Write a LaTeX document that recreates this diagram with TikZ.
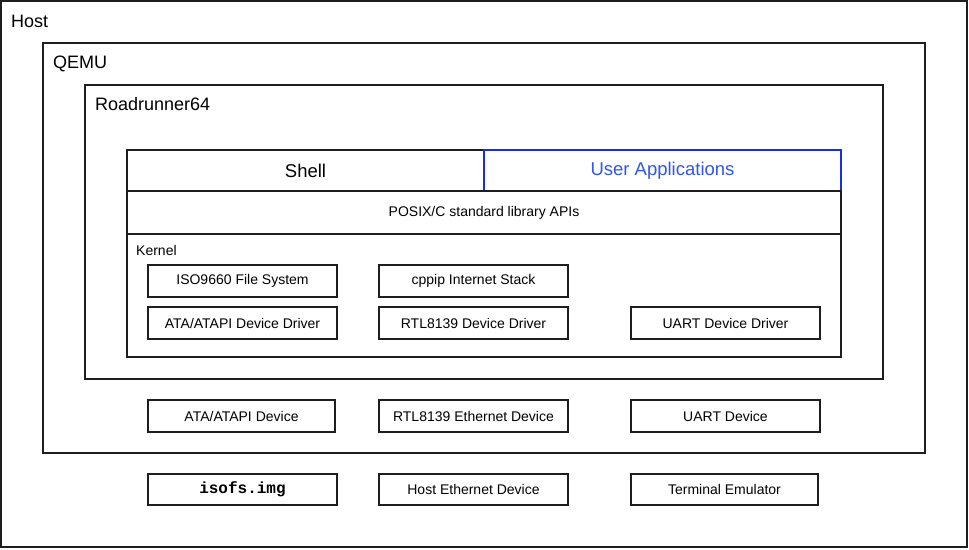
\documentclass[tikz,border=0pt]{standalone}
\usepackage{fontspec}
\setmainfont{Liberation Sans}
\setmonofont{Liberation Mono}
\definecolor{edge}{RGB}{30,30,30}
\definecolor{uablue}{RGB}{25,45,225}
\definecolor{uatext}{RGB}{50,85,235}
\tikzset{
  frame/.style={draw=edge, line width=1.2pt, inner sep=0pt, rectangle},
  title/.style={anchor=base west, inner sep=0pt, font=\fontsize{18}{21}\selectfont},
  boxlabel/.style={frame, minimum width=189pt, minimum height=32pt, font=\fontsize{14}{16}\selectfont},
  layer/.style={frame, font=\fontsize{18.5}{21}\selectfont}
}
\begin{document}
\begin{tikzpicture}[x=1pt,y=-1pt]
\useasboundingbox (0,0) rectangle (969,549);
\fill[white] (0,0) rectangle (969,549);
% containers
\node[frame, minimum width=966pt, minimum height=546pt] (host) at (484,274) {};
\node[frame, minimum width=882pt, minimum height=410pt] (qemu) at (484,248) {};
\node[frame, minimum width=798pt, minimum height=294pt] (rr) at (484,232) {};
\node[title] (hostt) at (11,27) {Host};
\node[title] (qemut) at (53,68) {QEMU};
\node[title] (rrt) at (95,110) {Roadrunner64};
% layers
\node[layer, minimum width=357pt, minimum height=41pt] (shell) at (305.5,170.5) {Shell};
\node[layer, draw=uablue, text=uatext, minimum width=357pt, minimum height=41pt] (ua) at (662.5,170.5) {User Applications};
\node[frame, minimum width=714pt, minimum height=43pt, font=\fontsize{14}{16}\selectfont] (posix) at (484,212.5) {POSIX/C standard library APIs};
\node[frame, minimum width=714pt, minimum height=123pt] (kernel) at (484,295.5) {};
\node[anchor=base west, inner sep=0pt, font=\fontsize{14}{16}\selectfont] (kernelt) at (136,255) {Kernel};
% kernel components
\node[boxlabel] (iso) at (242.5,281) {ISO9660 File System};
\node[boxlabel] (cppip) at (473.5,281) {cppip Internet Stack};
\node[boxlabel] (atadrv) at (242.5,323) {ATA/ATAPI Device Driver};
\node[boxlabel] (rtldrv) at (473.5,323) {RTL8139 Device Driver};
\node[boxlabel] (uartdrv) at (725.5,323) {UART Device Driver};
% QEMU devices
\node[boxlabel, minimum width=187pt] (atadev) at (241.5,416) {ATA/ATAPI Device};
\node[boxlabel] (rtldev) at (473.5,416) {RTL8139 Ethernet Device};
\node[boxlabel] (uartdev) at (725.5,416) {UART Device};
% host items
\node[boxlabel, minimum height=31pt, font=\fontsize{16}{18}\selectfont\ttfamily\bfseries] (isofs) at (242.5,489.5) {isofs.img};
\node[boxlabel, minimum height=31pt] (hosteth) at (473.5,489.5) {Host Ethernet Device};
\node[boxlabel, minimum height=31pt, minimum width=187pt] (term) at (724.5,489.5) {Terminal Emulator};
\end{tikzpicture}
\end{document}
